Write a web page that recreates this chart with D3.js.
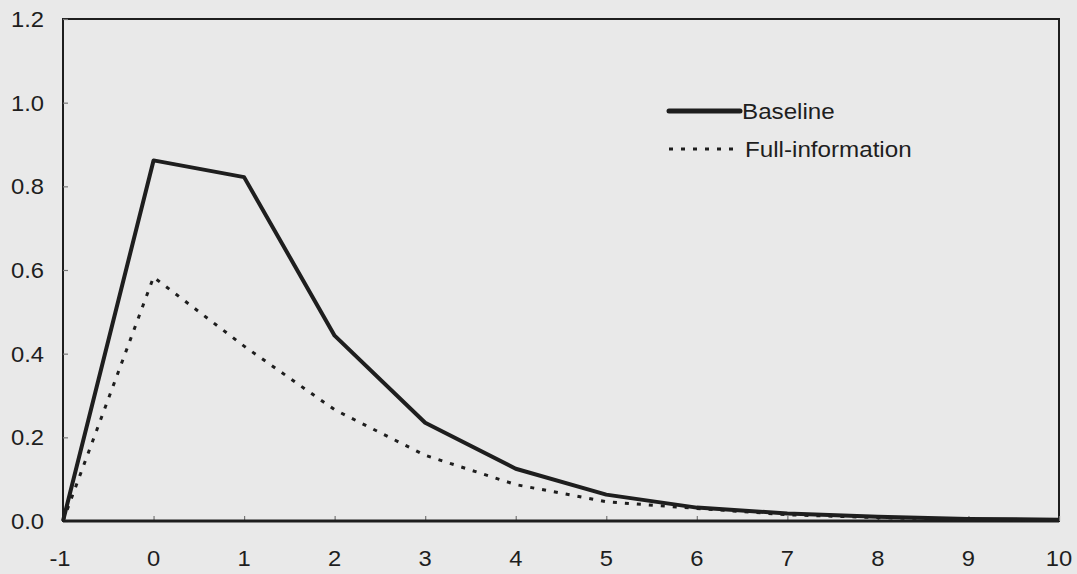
<!DOCTYPE html>
<html>
<head>
<meta charset="utf-8">
<script src="https://cdn.jsdelivr.net/npm/d3@7/dist/d3.min.js"></script>
<style>
  html, body { margin: 0; padding: 0; background: #e9e9e9; }
  svg { display: block; }
  text { font-family: "Liberation Sans", Arial, sans-serif; fill: #1e1e1e; }
</style>
</head>
<body>
<svg id="chart" width="1077" height="574"></svg>
<script>
// Periods after the shock
const periods = [-1, 0, 1, 2, 3, 4, 5, 6, 7, 8, 9, 10];
// Impulse responses
const baseline = [0.0, 0.862, 0.822, 0.443, 0.235, 0.125, 0.063, 0.032, 0.018, 0.010, 0.005, 0.003];
const fullInfo = [0.0, 0.583, 0.418, 0.266, 0.157, 0.087, 0.046, 0.030, 0.015, 0.008, 0.004, 0.002];
// Axis ticks
const xTicks = [-1, 0, 1, 2, 3, 4, 5, 6, 7, 8, 9, 10];
const yTicks = [0.0, 0.2, 0.4, 0.6, 0.8, 1.0, 1.2];
const seriesNames = ["Baseline", "Full-information"];

const svg = d3.select("#chart");
const plotL = 63, plotR = 1059, plotT = 19, plotB = 521;

const x = d3.scaleLinear().domain([-1, 10]).range([plotL, plotR]);
const y = d3.scaleLinear().domain([0, 1.2]).range([plotB, plotT]);

const ink = "#1e1e1e";
const stretch = 1.08;   // slightly wide lettering

// Frame
svg.append("rect")
  .attr("x", plotL).attr("y", plotT)
  .attr("width", plotR - plotL).attr("height", plotB - plotT)
  .attr("fill", "none").attr("stroke", ink).attr("stroke-width", 2);

// Y axis: ticks pointing inward, labels to the left
const yAxis = d3.axisRight(y).tickValues(yTicks).tickSize(5).tickFormat("");
const gy = svg.append("g").attr("transform", `translate(${plotL},0)`).call(yAxis);
gy.select(".domain").remove();
gy.selectAll("line").attr("stroke", "#777").attr("stroke-width", 1.2);

svg.append("g").selectAll("text").data(yTicks).join("text")
  .attr("transform", d => `translate(44,${y(d)}) scale(${stretch},1)`)
  .attr("dy", "0.36em")
  .attr("text-anchor", "end").attr("font-size", 22)
  .text(d => d3.format(".1f")(d));

// X axis: ticks pointing up into the plot
const xAxis = d3.axisTop(x).tickValues(xTicks).tickSize(5).tickFormat("");
const gx = svg.append("g").attr("transform", `translate(0,${plotB})`).call(xAxis);
gx.select(".domain").remove();
gx.selectAll("line").attr("stroke", "#777").attr("stroke-width", 1.2);

svg.append("g").selectAll("text").data(xTicks).join("text")
  .attr("transform", d => `translate(${x(d) - (d < 0 ? 3 : 0)},566) scale(${stretch},1)`)
  .attr("text-anchor", "middle").attr("font-size", 22)
  .text(d => d);

// Thicker bottom axis line
svg.append("line")
  .attr("x1", plotL).attr("x2", plotR).attr("y1", plotB).attr("y2", plotB)
  .attr("stroke", ink).attr("stroke-width", 3);

const line = d3.line().x((d, i) => x(periods[i])).y(d => y(d));

// Full-information response (dotted)
svg.append("path").datum(fullInfo)
  .attr("d", line).attr("fill", "none")
  .attr("stroke", ink).attr("stroke-width", 3)
  .attr("stroke-dasharray", "4,8").attr("stroke-linejoin", "round");

// Baseline response (solid)
svg.append("path").datum(baseline)
  .attr("d", line).attr("fill", "none")
  .attr("stroke", ink).attr("stroke-width", 4).attr("stroke-linejoin", "round");

// Legend
const legend = svg.append("g");
legend.append("line").attr("x1", 669).attr("x2", 740).attr("y1", 111).attr("y2", 111)
  .attr("stroke", ink).attr("stroke-width", 5).attr("stroke-linecap", "round");
legend.append("line").attr("x1", 669).attr("x2", 740).attr("y1", 149).attr("y2", 149)
  .attr("stroke", ink).attr("stroke-width", 3).attr("stroke-dasharray", "4,8");
legend.append("text")
  .attr("transform", `translate(742,111) scale(1.1,1)`).attr("dy", "0.36em")
  .attr("font-size", 22).text(seriesNames[0]);
legend.append("text")
  .attr("transform", `translate(745,149) scale(1.1,1)`).attr("dy", "0.36em")
  .attr("font-size", 22).text(seriesNames[1]);
</script>
</body>
</html>
